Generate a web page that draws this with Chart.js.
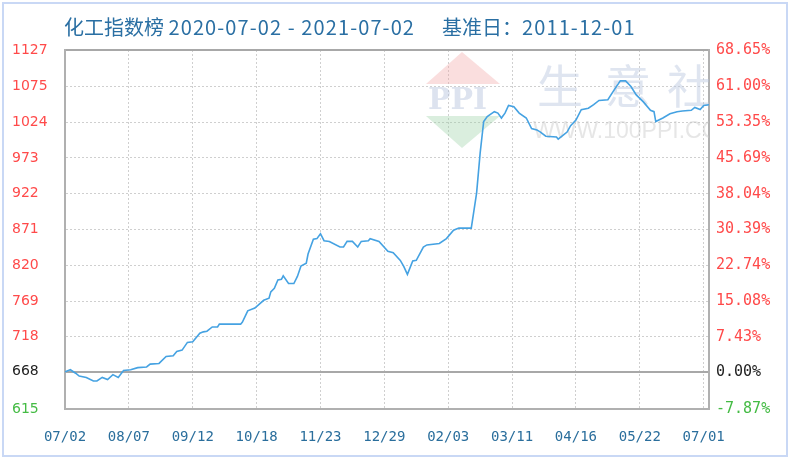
<!DOCTYPE html>
<html>
<head>
<meta charset="utf-8">
<script src="https://cdn.jsdelivr.net/npm/chart.js@4/dist/chart.umd.min.js"></script>
<style>
  html, body { margin: 0; padding: 0; background: #fff; }
  #wrap { position: relative; width: 790px; height: 459px; }
  #frame { position: absolute; left: 2px; top: 2px; width: 782px; height: 451px; border: 2px solid #c9d8f5; pointer-events: none; }
  #title { position: absolute; left: 64px; top: 12px; font: 20px "Noto Sans CJK SC", sans-serif; color: #2a6fa3; white-space: pre; }
  #title .num { letter-spacing: 1.1px; }
  #title .gap { display: inline-block; width: 27px; }
  canvas { position: absolute; left: 0; top: 0; }
</style>
</head>
<body>
<div id="wrap">
  <canvas id="graph" width="790" height="459"></canvas>
  <div id="title">化工指数榜 <span class="num">2020-07-02 - 2021-07-02</span><span class="gap"></span>基准日：<span class="num">2011-12-01</span></div>
  <div id="frame"></div>
</div>
<script>
// x = days since 2020-07-02, y = index value
const dayOffsets = [0, 3, 6, 8, 12, 16, 18, 21, 24, 27, 30, 33, 37, 41, 46, 48, 53, 57, 61, 63,
  66, 69, 72, 76, 78, 80, 83, 86, 87, 99, 100, 103, 107, 112, 115, 116, 118, 120, 122, 123,
  126, 129, 131, 133, 136, 137, 140, 142, 144, 146, 149, 155, 157, 159, 162, 165, 167, 171, 172, 177,
  182, 185, 189, 191, 193, 196, 198, 202, 204, 211, 215, 219, 222, 229, 232, 234, 236, 238, 242, 244,
  246, 248, 250, 253, 256, 260, 263, 266, 268, 271, 277, 278, 281, 283, 285, 288, 291, 295, 298, 301,
  306, 309, 313, 316, 319, 322, 326, 330, 332, 333, 337, 341, 345, 348, 353, 355, 358, 360, 363];
const indexValues = [668, 671, 666, 662, 660, 655, 655, 660, 657, 664, 660, 670, 671, 674, 675, 679, 680, 690, 691, 697,
  699, 710, 711, 723, 725, 726, 732, 732, 736, 736, 739, 755, 759, 770, 773, 782, 787, 799, 800, 805,
  794, 794, 804, 819, 823, 836, 857, 858, 865, 855, 854, 846, 846, 854, 854, 846, 854, 855, 858, 854,
  840, 838, 827, 818, 807, 826, 827, 846, 849, 851, 858, 870, 873, 873, 923, 980, 1025, 1032, 1039, 1037,
  1030, 1037, 1048, 1046, 1037, 1030, 1015, 1013, 1010, 1004, 1003, 1000, 1006, 1010, 1019, 1027, 1042, 1044, 1049, 1055,
  1056, 1068, 1083, 1083, 1075, 1063, 1053, 1041, 1039, 1025, 1030, 1036, 1039, 1040, 1041, 1045, 1042, 1048, 1049];

const dateTicks = [0, 36, 72, 108, 144, 180, 216, 252, 288, 324, 360];
const dateLabels = ['07/02', '08/07', '09/12', '10/18', '11/23', '12/29', '02/03', '03/11', '04/16', '05/22', '07/01'];
const valueTicks = [615, 668, 718, 769, 820, 871, 922, 973, 1024, 1075, 1127];
const percentLabels = ['-7.87%', '0.00%', '7.43%', '15.08%', '22.74%', '30.39%', '38.04%', '45.69%', '53.35%', '61.00%', '68.65%'];
const baseValue = 668;

function tickColor(ctx) {
  const v = ctx.tick ? ctx.tick.value : 0;
  if (v > baseValue) return '#ff4a4a';
  if (v === baseValue) return '#222';
  return '#44bb44';
}

// faint site watermark behind the line
const watermark = {
  id: 'watermark',
  beforeDatasetsDraw(chart) {
    const c = chart.ctx;
    const a = chart.chartArea;
    c.save();
    c.beginPath();
    c.rect(a.left, a.top, a.right - a.left, a.bottom - a.top);
    c.clip();
    c.fillStyle = 'rgba(240,160,160,0.35)';
    c.beginPath();
    c.moveTo(462, 52); c.lineTo(426, 84); c.lineTo(500, 84); c.closePath();
    c.fill();
    c.fillStyle = 'rgba(150,205,160,0.35)';
    c.beginPath();
    c.moveTo(426, 116); c.lineTo(500, 116); c.lineTo(462, 148); c.closePath();
    c.fill();
    c.fillStyle = 'rgba(170,185,215,0.4)';
    c.font = 'bold 30px "DejaVu Serif", serif';
    c.textBaseline = 'middle';
    c.fillText('PPI', 428, 101);
    c.fillStyle = 'rgba(185,198,222,0.45)';
    c.font = '46px "Noto Sans CJK SC", sans-serif';
    c.fillText('生', 537, 86);
    c.fillText('意', 605, 86);
    c.fillText('社', 667, 86);
    c.fillStyle = 'rgba(200,200,200,0.45)';
    c.font = '23px "Liberation Sans", sans-serif';
    c.fillText('WWW.100PPI.COM', 533, 132);
    c.restore();
  }
};

new Chart(document.getElementById('graph'), {
  type: 'line',
  data: {
    datasets: [{
      data: dayOffsets.map((d, i) => ({ x: d, y: indexValues[i] })),
      borderColor: '#45a2e2',
      borderWidth: 1.6,
      pointRadius: 0,
      tension: 0,
      fill: false
    }]
  },
  plugins: [watermark],
  options: {
    responsive: false,
    animation: false,
    layout: { padding: { left: 12, right: 0, top: 50, bottom: 0 } },
    plugins: { legend: { display: false }, tooltip: { enabled: false } },
    scales: {
      x: {
        type: 'linear',
        min: 0,
        max: 363,
        afterBuildTicks: axis => { axis.ticks = dateTicks.map(v => ({ value: v })); },
        afterFit: axis => { axis.height = 50; },
        grid: { color: '#cfcfcf', lineWidth: 1, drawTicks: false },
        border: { color: '#b0b0b0', width: 2, dash: ctx => ctx.tick ? [2, 2] : [] },
        ticks: {
          autoSkip: false,
          maxRotation: 0,
          padding: 20,
          color: '#2a6e9c',
          font: { family: 'DejaVu Sans Mono', size: 14 },
          callback: (v, i) => dateLabels[i]
        }
      },
      y: {
        position: 'left',
        min: 615,
        max: 1127,
        afterBuildTicks: axis => { axis.ticks = valueTicks.map(v => ({ value: v })); },
        afterFit: axis => { axis.width = 53; },
        grid: {
          drawTicks: false,
          color: ctx => (ctx.tick && (ctx.tick.value === baseValue || ctx.tick.value === 1127)) ? '#a8a8a8' : '#cfcfcf',
          lineWidth: ctx => (ctx.tick && (ctx.tick.value === baseValue || ctx.tick.value === 1127)) ? 2 : 1
        },
        border: {
          color: '#b0b0b0',
          width: 2,
          dash: ctx => (ctx.tick && ctx.tick.value !== baseValue && ctx.tick.value !== 1127) ? [2, 2] : []
        },
        ticks: {
          autoSkip: false,
          crossAlign: 'far',
          padding: 8,
          color: tickColor,
          font: { family: 'DejaVu Sans', size: 14 },
          callback: (v, i) => String(valueTicks[i])
        }
      },
      y2: {
        position: 'right',
        min: 615,
        max: 1127,
        afterBuildTicks: axis => { axis.ticks = valueTicks.map(v => ({ value: v })); },
        afterFit: axis => { axis.width = 81; },
        grid: { display: false, drawTicks: false },
        border: { color: '#b0b0b0', width: 2 },
        ticks: {
          autoSkip: false,
          padding: 7,
          color: tickColor,
          font: { family: 'DejaVu Sans Mono', size: 15 },
          callback: (v, i) => percentLabels[i]
        }
      }
    }
  }
});
</script>
</body>
</html>
